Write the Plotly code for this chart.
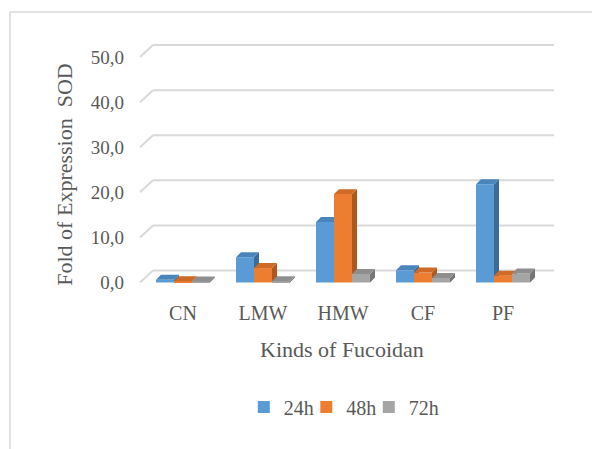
import plotly.graph_objects as go

# Fold of SOD expression by fucoidan type and exposure time
categories = ["CN", "LMW", "HMW", "CF", "PF"]
series_names = ["24h", "48h", "72h"]
h24 = [0.6, 5.6, 13.4, 2.7, 21.8]
h48 = [0.3, 3.2, 19.6, 2.2, 1.5]
h72 = [0.2, 0.3, 1.9, 1.0, 2.0]
y_ticks = [0, 10, 20, 30, 40, 50]

values = [h24, h48, h72]
front_colors = ["#5B9BD5", "#ED7D31", "#A5A5A5"]
top_colors = ["#4A84BC", "#CF6A27", "#8E8E8E"]
side_colors = ["#3B6B98", "#AD5820", "#767676"]

# geometry in axis units
X_RANGE = [-0.6, 4.7]
Y_RANGE = [-1, 56]
BAR_W = 0.225          # width of one bar (category units)
DX, DY = 0.0625, 1.107  # depth offset of the bar tops/sides
WALL_DY = 2.656        # back-wall offset of gridlines
WALL_X0, WALL_X1, FLOOR_X = -0.375, 4.6375, -0.5375

TEXT = "#595959"
FONT = "Liberation Serif"

fig = go.Figure()

for k, vals in enumerate(values):
    xa = "x" if k == 0 else f"x{k + 1}"
    ya = "y" if k == 0 else f"y{k + 1}"
    centers = [i + (k - 1) * BAR_W for i in range(len(categories))]
    fig.add_trace(go.Bar(
        x=centers, y=vals, width=BAR_W, name=series_names[k],
        marker=dict(color=front_colors[k], line=dict(width=0)),
        xaxis=xa, yaxis=ya, hoverinfo="skip",
    ))
    top_x, top_y, side_x, side_y = [], [], [], []
    for c, v in zip(centers, vals):
        l, r = c - BAR_W / 2, c + BAR_W / 2
        top_x += [l, r, r + DX, l + DX, l, None]
        top_y += [v, v, v + DY, v + DY, v, None]
        side_x += [r, r, r + DX, r + DX, r, None]
        side_y += [0, v, v + DY, DY, 0, None]
    for xs, ys, col in ((side_x, side_y, side_colors[k]), (top_x, top_y, top_colors[k])):
        fig.add_trace(go.Scatter(
            x=xs, y=ys, mode="lines", fill="toself", fillcolor=col,
            line=dict(width=0, color=col), showlegend=False,
            hoverinfo="skip", xaxis=xa, yaxis=ya,
        ))

# blank trailing legend slot so the last label is not cut off
fig.add_trace(go.Scatter(x=[0], y=[0], mode="lines", name="\u00a0",
                         line=dict(width=0, color="rgba(0,0,0,0)"),
                         hoverinfo="skip", showlegend=True))

# gridlines: floor-side diagonal plus back-wall horizontal
shapes = []
for v in y_ticks:
    shapes.append(dict(type="line", xref="x", yref="y", layer="below",
                       x0=FLOOR_X, y0=v, x1=WALL_X0, y1=v + WALL_DY,
                       line=dict(color="#D9D9D9", width=2)))
    shapes.append(dict(type="line", xref="x", yref="y", layer="below",
                       x0=WALL_X0, y0=v + WALL_DY, x1=WALL_X1, y1=v + WALL_DY,
                       line=dict(color="#D9D9D9", width=2)))
# chart frame
shapes.append(dict(type="rect", xref="paper", yref="paper",
                   x0=-0.2948, y0=-0.7, x1=1.1, y1=1.0699,
                   line=dict(color="#D9D9D9", width=1.5)))

fig.update_layout(
    width=592, height=449,
    margin=dict(l=135, r=33, t=30, b=161.5),
    paper_bgcolor="white", plot_bgcolor="rgba(0,0,0,0)",
    barmode="overlay", separators=",.",
    font=dict(family=FONT, color=TEXT, size=19),
    shapes=shapes,
    xaxis=dict(range=X_RANGE, tickvals=list(range(len(categories))),
               ticktext=categories, showgrid=False, zeroline=False,
               showline=False, ticks="", ticklabelstandoff=12,
               tickfont=dict(size=20, color=TEXT, family=FONT), fixedrange=True),
    yaxis=dict(range=Y_RANGE, tickvals=y_ticks, tickformat=".1f",
               showgrid=False, zeroline=False, showline=False, ticks="",
               ticklabelstandoff=10,
               tickfont=dict(size=19, color=TEXT, family=FONT), fixedrange=True),
    xaxis2=dict(range=X_RANGE, overlaying="x", visible=False),
    xaxis3=dict(range=X_RANGE, overlaying="x", visible=False),
    yaxis2=dict(range=Y_RANGE, overlaying="y", visible=False),
    yaxis3=dict(range=Y_RANGE, overlaying="y", visible=False),
    legend=dict(orientation="h", xref="container", yref="container",
                x=0.623, xanchor="center", y=0.0935, yanchor="middle",
                font=dict(size=20, color=TEXT, family=FONT),
                itemwidth=30, entrywidth=17.5, traceorder="normal",
                bgcolor="rgba(0,0,0,0)"),
    annotations=[
        dict(text="Fold of Expression\u00a0 SOD", xref="paper", yref="paper",
             x=-0.165, y=0.437, xanchor="center", yanchor="middle",
             textangle=-90, showarrow=False,
             font=dict(size=22, color=TEXT, family=FONT)),
        dict(text="Kinds of Fucoidan", xref="paper", yref="paper",
             x=0.488, y=-0.2427, xanchor="center", yanchor="middle",
             showarrow=False,
             font=dict(size=22, color=TEXT, family=FONT)),
    ],
)

fig.write_html("out.html")
